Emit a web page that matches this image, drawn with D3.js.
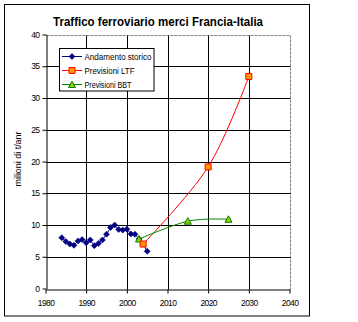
<!DOCTYPE html>
<html><head><meta charset="utf-8">
<script src="https://cdn.jsdelivr.net/npm/d3@7"></script>
<style>body{margin:0;background:#fff}svg{display:block}text{font-family:Arial,"Liberation Sans",sans-serif}</style>
</head><body><svg id="c" width="358" height="322"></svg>
<script>
const title = "Traffico ferroviario merci Francia-Italia";
const yTitle = "milioni di t/anr";
const xTicks = [1980,1990,2000,2010,2020,2030,2040];
const yTicks = [0,5,10,15,20,25,30,35,40];
const histYears = [1984,1985,1986,1987,1988,1989,1990,1991,1992,1993,1994,1995,1996,1997,1998,1999,2000,2001,2002,2003,2004,2005];
const histValues = [8.0,7.4,7.0,6.8,7.5,7.7,7.2,7.65,6.75,7.1,7.65,8.55,9.6,10.0,9.3,9.2,9.35,8.6,8.55,7.8,7.0,5.85];
const ltfYears = [2004,2020,2030];
const ltfValues = [7.0,19.15,33.4];
const bbtYears = [2003,2015,2025];
const bbtValues = [7.8,10.6,10.9];
const seriesNames = ["Andamento storico","Previsioni LTF","Previsioni BBT"];

const svg = d3.select("#c");
svg.append("rect").attr("x",4.5).attr("y",4.5).attr("width",305).attr("height",311.5)
  .attr("fill","#fff").attr("stroke","#000").attr("stroke-width",1);

const xs = d3.scaleLinear().domain([1980,2040]).range([45.5,289.5]);
const ys = d3.scaleLinear().domain([0,40]).range([288.5,34.5]);
const px = v => Math.round(xs(v))+0.5;
const py = v => Math.round(ys(v))+0.5;

svg.append("line").attr("x1",px(1980)).attr("x2",px(2040)).attr("y1",py(40)).attr("y2",py(40))
  .attr("stroke","#808080").attr("stroke-dasharray","3,1");
svg.append("line").attr("x1",px(2040)).attr("x2",px(2040)).attr("y1",py(40)).attr("y2",py(0))
  .attr("stroke","#808080").attr("stroke-dasharray","3,1");

// gridlines
const gp = d3.path();
yTicks.filter(v=>v>0 && v<40).forEach(v=>{gp.moveTo(px(1980),py(v)); gp.lineTo(px(2040),py(v));});
xTicks.filter(v=>v>1980 && v<2040).forEach(v=>{gp.moveTo(px(v),py(0)); gp.lineTo(px(v),py(40));});
svg.append("path").attr("d",gp.toString()).attr("fill","none").attr("stroke","#000000").attr("stroke-width",1);

// axes
const ax = svg.append("g").attr("transform",`translate(0,${py(0)})`)
  .call(d3.axisBottom(xs).tickValues(xTicks).tickFormat(d3.format("d")).tickSizeInner(4).tickSizeOuter(0).tickPadding(6));
const ay = svg.append("g").attr("transform",`translate(${px(1980)},0)`)
  .call(d3.axisLeft(ys).tickValues(yTicks).tickSizeInner(4).tickSizeOuter(0).tickPadding(3));
[ax,ay].forEach(a=>{
  a.select(".domain").attr("stroke","#000").attr("stroke-width",1);
  a.selectAll(".tick line").attr("stroke","#000");
  a.selectAll("text").attr("font-size","8.5px").attr("fill","#000").attr("font-family","Arial, 'Liberation Sans', sans-serif").attr("letter-spacing","-0.6px");
});

// title
svg.append("text").attr("x",158).attr("y",26).attr("text-anchor","middle")
  .attr("font-weight","bold").attr("font-size","12.5px").attr("textLength",210).attr("lengthAdjust","spacingAndGlyphs").text(title);
// y title
svg.append("text").attr("transform","translate(21,159) rotate(-90)").attr("text-anchor","middle")
  .attr("font-size","8.5px").attr("textLength",55).attr("lengthAdjust","spacingAndGlyphs").text(yTitle);

// series
const hist = histYears.map((d,i)=>[d,histValues[i]]);
const ltf = ltfYears.map((d,i)=>[d,ltfValues[i]]);
const bbt = bbtYears.map((d,i)=>[d,bbtValues[i]]);
const lineStraight = d3.line().x(d=>xs(d[0])).y(d=>ys(d[1]));
const lineSmooth = d3.line().x(d=>xs(d[0])).y(d=>ys(d[1])).curve(d3.curveCardinal.tension(0));

svg.append("path").attr("d",lineStraight(hist)).attr("fill","none").attr("stroke","#000080").attr("stroke-width",1);
svg.append("path").attr("d",lineSmooth(ltf)).attr("fill","none").attr("stroke","#FF0000").attr("stroke-width",1);
svg.append("path").attr("d",lineSmooth(bbt)).attr("fill","none").attr("stroke","#008000").attr("stroke-width",1);

const diamond = "M0,-3L3,0L0,3L-3,0Z";
const square = "M-3,-3H3V3H-3Z";
const tri = "M0,-3.5L3.5,3L-3.5,3Z";
function histMark(sel){sel.append("path").attr("d",diamond).attr("fill","#000080").attr("stroke","#000080").attr("stroke-width",0.6);}
function ltfMark(sel){sel.append("path").attr("d",square).attr("fill","#FF9900").attr("stroke","#FF0000").attr("stroke-width",1);}
function bbtMark(sel){sel.append("path").attr("d",tri).attr("fill","#99CC00").attr("stroke","#008000").attr("stroke-width",1);}

svg.selectAll("g.hm").data(hist).join("g").attr("class","hm").attr("transform",d=>`translate(${xs(d[0])},${ys(d[1])})`).call(histMark);
svg.selectAll("g.bm").data(bbt).join("g").attr("class","bm").attr("transform",d=>`translate(${xs(d[0])},${ys(d[1])})`).call(bbtMark);
svg.selectAll("g.lm").data(ltf).join("g").attr("class","lm").attr("transform",d=>`translate(${xs(d[0])},${ys(d[1])})`).call(ltfMark);

// legend
const lg = svg.append("g");
lg.append("rect").attr("x",59.5).attr("y",48.5).attr("width",94.5).attr("height",42.5).attr("fill","#fff").attr("stroke","#000");
const colors = ["#000080","#FF0000","#008000"];
const marks = [histMark,ltfMark,bbtMark];
const lens = [67,50,47];
seriesNames.forEach((n,i)=>{
  const cy = 56.5 + i*14;
  lg.append("line").attr("x1",62).attr("x2",82).attr("y1",cy).attr("y2",cy).attr("stroke",colors[i]).attr("stroke-width",1);
  lg.append("g").attr("transform",`translate(72,${cy})`).call(marks[i]);
  lg.append("text").attr("x",84.5).attr("y",cy+3).attr("font-size","8.5px").attr("textLength",lens[i]).attr("lengthAdjust","spacingAndGlyphs").text(n);
});
</script></body></html>
